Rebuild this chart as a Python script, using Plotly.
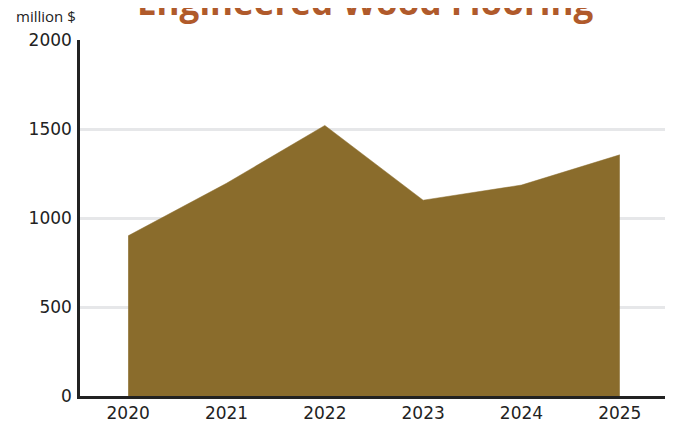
import plotly.graph_objects as go

years = [2020, 2021, 2022, 2023, 2024, 2025]
values = [900, 1195, 1520, 1100, 1185, 1355]
y_ticks = [0, 500, 1000, 1500, 2000]

fig = go.Figure()
fig.add_trace(go.Scatter(
    x=years, y=values, mode="lines", fill="tozeroy",
    line=dict(color="#8a6c2c", width=0.5),
    fillcolor="#8a6c2c", hoverinfo="skip", showlegend=False,
))

fig.update_layout(
    width=673, height=422,
    margin=dict(l=72, r=16, t=32, b=34, autoexpand=False),
    paper_bgcolor="white", plot_bgcolor="white",
    font=dict(family="DejaVu Sans", size=17, color="#222222"),
    xaxis=dict(
        range=[2019.51, 2025.46], tickvals=years, ticktext=[str(y) for y in years],
        showgrid=False, zeroline=False, showline=True, linecolor="#222222", linewidth=2.5,
        ticks="", ticklabelstandoff=0, automargin=False,
    ),
    yaxis=dict(
        range=[0, 2000], tickvals=y_ticks, ticktext=[str(v) for v in y_ticks],
        showgrid=True, gridcolor="#e6e7e9", gridwidth=3, zeroline=False,
        showline=True, linecolor="#222222", linewidth=2.5,
        ticks="", ticklabelstandoff=2, automargin=False,
    ),
    annotations=[
        dict(
            text="<b>Engineered Wood Flooring</b>", xref="paper", yref="paper",
            x=(365 - 80) / 585, y=1.109, xanchor="center", yanchor="middle",
            showarrow=False,
            font=dict(family="Open Sans", size=35, color="#b05a2b"),
        ),
        dict(
            text="million $", xref="paper", yref="paper",
            x=-0.1125, y=1.067, xanchor="left", yanchor="middle", showarrow=False,
            font=dict(family="Open Sans", size=15, color="#222222"),
        ),
    ],
)

fig.write_html("out.html")
